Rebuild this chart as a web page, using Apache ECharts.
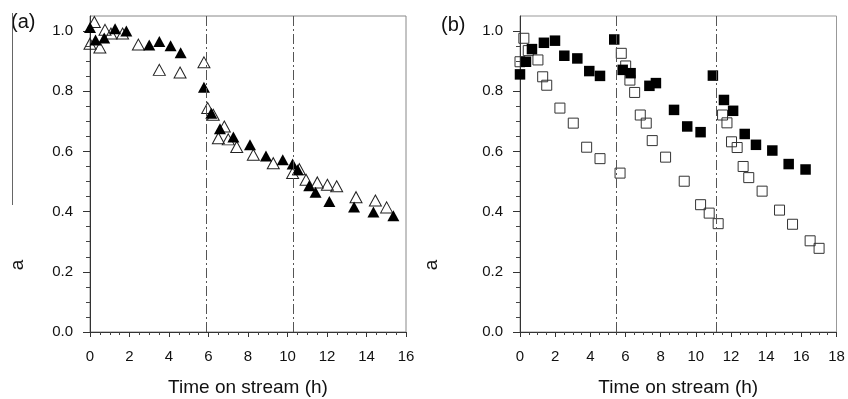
<!DOCTYPE html>
<html>
<head>
<meta charset="utf-8">
<script src="https://cdn.jsdelivr.net/npm/echarts@6/dist/echarts.min.js"></script>
<style>
html,body{margin:0;padding:0;background:#fff;}
#c{width:848px;height:399px;}
</style>
</head>
<body>
<div id="c"></div>
<script>
// Panel (a): filled and open triangles [time (h), a]
const aFilled = [[0,1.012],[0.28,0.97],[0.72,0.977],[1.27,1.008],[1.84,1.0],[3.0,0.954],[3.51,0.965],[4.08,0.951],[4.59,0.928],[5.77,0.813],[6.14,0.727],[6.58,0.675],[7.26,0.648],[8.1,0.622],[8.91,0.585],[9.76,0.572],[10.26,0.558],[10.52,0.539],[11.1,0.486],[11.42,0.464],[12.12,0.434],[13.37,0.415],[14.35,0.399],[15.36,0.386]];
const aOpen = [[0.0,0.958],[0.22,1.03],[0.5,0.945],[0.76,1.004],[1.06,0.992],[1.65,0.992],[2.45,0.955],[3.51,0.871],[4.56,0.862],[5.77,0.896],[5.96,0.744],[6.24,0.722],[6.5,0.644],[6.8,0.683],[7.0,0.64],[7.43,0.615],[8.27,0.589],[9.28,0.561],[10.26,0.528],[10.6,0.541],[10.94,0.506],[11.51,0.497],[12.02,0.489],[12.49,0.484],[13.47,0.448],[14.45,0.437],[15.02,0.414]];
const aBreaks = [5.9, 10.3];
// Panel (b): filled and open squares
const bFilled = [[0,0.856],[0.34,0.898],[0.68,0.94],[1.36,0.961],[1.99,0.968],[2.52,0.918],[3.26,0.909],[3.94,0.867],[4.55,0.851],[5.36,0.972],[5.84,0.871],[6.29,0.86],[7.36,0.818],[7.73,0.827],[8.76,0.738],[9.51,0.683],[10.27,0.664],[10.97,0.852],[11.6,0.771],[12.12,0.735],[12.78,0.658],[13.42,0.622],[14.35,0.603],[15.28,0.558],[16.24,0.54]];
const bOpen = [[0,0.898],[0.22,0.976],[0.47,0.935],[1.02,0.904],[1.29,0.848],[1.52,0.82],[2.27,0.744],[3.03,0.694],[3.79,0.614],[4.55,0.576],[5.69,0.528],[5.76,0.926],[6.01,0.884],[6.25,0.837],[6.52,0.796],[6.84,0.721],[7.18,0.694],[7.52,0.636],[8.28,0.581],[9.34,0.501],[10.27,0.423],[10.76,0.395],[11.27,0.36],[11.52,0.721],[11.77,0.695],[12.03,0.632],[12.35,0.613],[12.69,0.55],[13.01,0.513],[13.77,0.468],[14.76,0.405],[15.5,0.358],[16.5,0.303],[17.01,0.278]];
const bBreaks = [5.5, 11.15];
// Axis ticks
const yMajor = [0, 0.2, 0.4, 0.6, 0.8, 1.0];
const yMinor = [0.05,0.1,0.15,0.25,0.3,0.35,0.45,0.5,0.55,0.65,0.7,0.75,0.85,0.9,0.95];
const xTitle = 'Time on stream (h)';
const yTitle = 'a';

const FONT = 'Liberation Sans, Arial, sans-serif';
const chart = echarts.init(document.getElementById('c'), null, {renderer: 'canvas'});

function xAxis(gi, max) {
  return {
    gridIndex: gi, type: 'value', min: 0, max: max, interval: 2,
    axisLine: {show: true, onZero: false, lineStyle: {color: '#333', width: 1}},
    axisTick: {show: true, inside: false, length: 5, lineStyle: {color: '#333'}},
    minorTick: {show: true, splitNumber: 4, length: 3, lineStyle: {color: '#444'}},
    splitLine: {show: false}, minorSplitLine: {show: false},
    axisLabel: {fontSize: 15, color: '#111', fontFamily: FONT, margin: 17},
    name: xTitle, nameLocation: 'middle', nameGap: 46,
    nameTextStyle: {fontSize: 19, color: '#111', fontFamily: FONT}
  };
}
function yAxisMain(gi) {
  return {
    gridIndex: gi, type: 'value', min: 0, max: 1.05, position: 'left',
    axisLine: {show: true, onZero: false, lineStyle: {color: '#333', width: 1}},
    axisTick: {show: true, inside: false, length: 7, customValues: yMajor, lineStyle: {color: '#333'}},
    splitLine: {show: false},
    axisLabel: {fontSize: 15, color: '#111', fontFamily: FONT, margin: 17, customValues: yMajor,
      formatter: v => v.toFixed(1)}
  };
}
function yAxisMinor(gi) {
  return {
    gridIndex: gi, type: 'value', min: 0, max: 1.05, position: 'left',
    axisLine: {show: false},
    axisTick: {show: true, inside: false, length: 4, customValues: yMinor, lineStyle: {color: '#444'}},
    splitLine: {show: false},
    axisLabel: {show: false}
  };
}
function breakLines(vals) {
  return {
    silent: true, symbol: 'none', animation: false,
    label: {show: false},
    lineStyle: {color: '#555', width: 1, type: [10, 3, 2, 3]},
    data: vals.map(v => ({xAxis: v}))
  };
}

chart.setOption({
  animation: false,
  backgroundColor: '#fff',
  grid: [
    {left: 90, top: 16, width: 316, height: 316, show: true, borderColor: '#888', borderWidth: 1, backgroundColor: 'transparent', containLabel: false, outerBoundsMode: 'none'},
    {left: 520, top: 16, width: 316.5, height: 316, show: true, borderColor: '#999', borderWidth: 1, backgroundColor: 'transparent', containLabel: false, outerBoundsMode: 'none'}
  ],
  xAxis: [xAxis(0, 16), xAxis(1, 18)],
  yAxis: [yAxisMain(0), yAxisMinor(0), yAxisMain(1), yAxisMinor(1)],
  series: [
    {type: 'scatter', xAxisIndex: 0, yAxisIndex: 0, data: aOpen, symbol: 'triangle', symbolSize: [12, 11],
      itemStyle: {color: 'rgba(255,255,255,0)', borderColor: '#222', borderWidth: 1, opacity: 1},
      markLine: breakLines(aBreaks), z: 2},
    {type: 'scatter', xAxisIndex: 0, yAxisIndex: 0, data: aFilled, symbol: 'triangle', symbolSize: [12, 11],
      itemStyle: {color: '#000', opacity: 1}, z: 3},
    {type: 'scatter', xAxisIndex: 1, yAxisIndex: 2, data: bOpen, symbol: 'rect', symbolSize: 10,
      itemStyle: {color: 'rgba(255,255,255,0)', borderColor: '#333', borderWidth: 1, opacity: 1},
      markLine: breakLines(bBreaks), z: 2},
    {type: 'scatter', xAxisIndex: 1, yAxisIndex: 2, data: bFilled, symbol: 'rect', symbolSize: 10.5,
      itemStyle: {color: '#000', opacity: 1}, z: 3}
  ],
  graphic: [
    {type: 'text', x: 11, y: 12, style: {text: '(a)', font: '20px ' + FONT, fill: '#111'}},
    {type: 'text', x: 441, y: 15, style: {text: '(b)', font: '20px ' + FONT, fill: '#111'}},
    {type: 'text', x: 18, y: 265, rotation: Math.PI / 2, style: {text: yTitle, font: '19px ' + FONT, fill: '#111', align: 'center', verticalAlign: 'middle'}},
    {type: 'text', x: 432, y: 265, rotation: Math.PI / 2, style: {text: yTitle, font: '19px ' + FONT, fill: '#111', align: 'center', verticalAlign: 'middle'}},
    {type: 'line', shape: {x1: 12.5, y1: 13, x2: 12.5, y2: 205}, style: {stroke: '#666', lineWidth: 1}}
  ]
});
</script>
</body>
</html>
